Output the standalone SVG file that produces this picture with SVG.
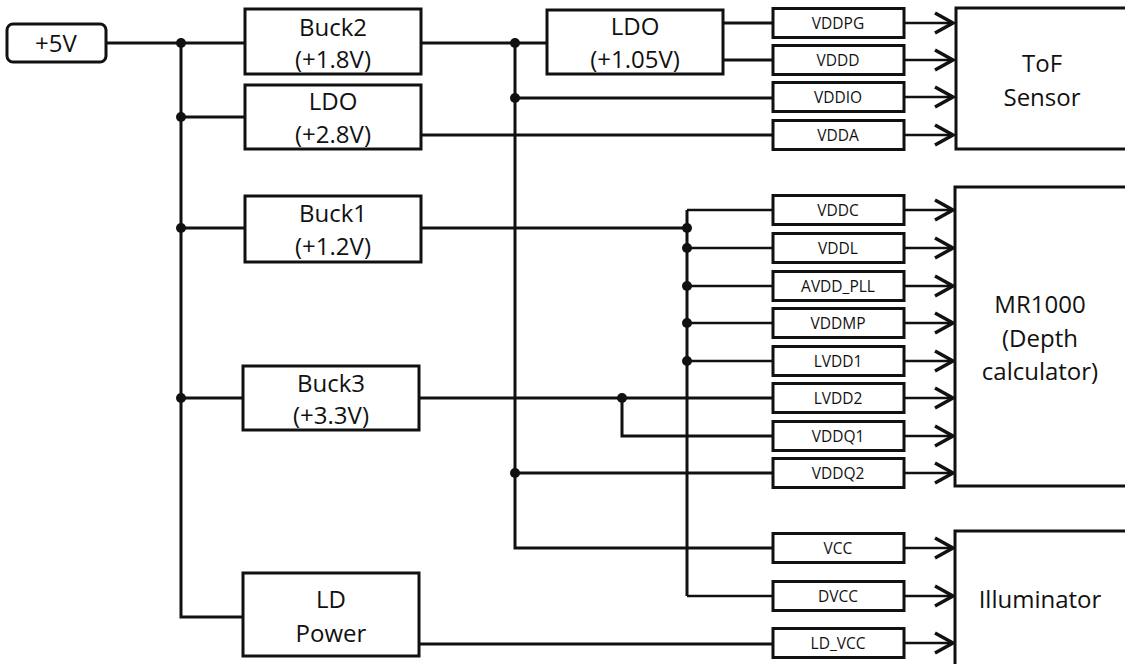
<svg xmlns="http://www.w3.org/2000/svg" width="1125" height="664" viewBox="0 0 1125 664">
<style>
.box{fill:#fff;stroke:#111;stroke-width:3}
.sbox{fill:#fff;stroke:#111;stroke-width:3}
.w{fill:none;stroke:#111;stroke-width:3;stroke-linejoin:miter}
.w2{fill:none;stroke:#111;stroke-width:2.5}
.ar{fill:none;stroke:#111;stroke-width:2.5}
.hd{fill:none;stroke:#111;stroke-width:3.5}
.dot{fill:#111}
.t{font-family:"Open Sans","Noto Sans",sans-serif;font-size:24px;fill:#111;text-anchor:middle}
.s{font-family:"Open Sans","Noto Sans",sans-serif;font-size:15.5px;fill:#111;text-anchor:middle}
</style>
<rect width="1125" height="664" fill="#fff"/>
<g id="connectors">
<!-- +5V bus -->
<path class="w" d="M106 43H245M181 43V617H245M181 117H245M181 228H245M181 398H245"/>
<!-- Buck2 output -->
<path class="w" d="M421 43H547M515 43V548H773M515 98H773M515 473H773"/>
<!-- LDO 1.05 outputs -->
<path class="w" d="M723 23H773M723 60H773"/>
<!-- LDO 2.8 output -->
<path class="w" d="M421 135H773"/>
<!-- Buck1 output -->
<path class="w" d="M421 228H687"/>
<path class="w" d="M687 210V596"/>
<path class="w2" d="M687 210H773M687 248H773M687 286H773M687 323H773M687 361H773M687 596H773"/>
<!-- Buck3 output -->
<path class="w" d="M419 398H773M622 398V436H773"/>
<!-- LD power output -->
<path class="w" d="M419 644H773"/>
<!-- dots -->
<circle class="dot" cx="181" cy="43" r="5"/>
<circle class="dot" cx="181" cy="117" r="5"/>
<circle class="dot" cx="181" cy="228" r="5"/>
<circle class="dot" cx="181" cy="398" r="5"/>
<circle class="dot" cx="515" cy="43" r="5"/>
<circle class="dot" cx="515" cy="98" r="5"/>
<circle class="dot" cx="515" cy="473" r="5"/>
<circle class="dot" cx="687" cy="228" r="5"/>
<circle class="dot" cx="687" cy="248" r="5"/>
<circle class="dot" cx="687" cy="286" r="5"/>
<circle class="dot" cx="687" cy="323" r="5"/>
<circle class="dot" cx="687" cy="361" r="5"/>
<circle class="dot" cx="622" cy="398" r="5"/>
<!-- arrows -->
<path class="ar" d="M904 23H953M904 60H953M904 97H953M904 135H953M904 210H953M904 248H953M904 286H953M904 323H953M904 361H953M904 398H953M904 436H953M904 473H953M904 548H953M904 596H953M904 643H953"/>
<g class="hd">
<path d="M935 13L953 23L935 33"/>
<path d="M935 50L953 60L935 70"/>
<path d="M935 87L953 97L935 107"/>
<path d="M935 125L953 135L935 145"/>
<path d="M935 200L953 210L935 220"/>
<path d="M935 238L953 248L935 258"/>
<path d="M935 276L953 286L935 296"/>
<path d="M935 313L953 323L935 333"/>
<path d="M935 351L953 361L935 371"/>
<path d="M935 388L953 398L935 408"/>
<path d="M935 426L953 436L935 446"/>
<path d="M935 463L953 473L935 483"/>
<path d="M935 538L953 548L935 558"/>
<path d="M935 586L953 596L935 606"/>
<path d="M935 633L953 643L935 653"/>
</g>
</g>
<g id="n5v"><rect class="box" x="7" y="24" width="99" height="38" rx="6"/><text class="t" x="56" y="52">+5V</text></g>
<g id="buck2"><rect class="box" x="245" y="9" width="176" height="65"/><text class="t" x="333" y="36">Buck2</text><text class="t" x="333" y="68">(+1.8V)</text></g>
<g id="ldo28"><rect class="box" x="245" y="85" width="176" height="64"/><text class="t" x="333" y="110">LDO</text><text class="t" x="333" y="143">(+2.8V)</text></g>
<g id="buck1"><rect class="box" x="245" y="196" width="176" height="66"/><text class="t" x="333" y="222">Buck1</text><text class="t" x="333" y="255">(+1.2V)</text></g>
<g id="buck3"><rect class="box" x="243" y="366" width="176" height="64"/><text class="t" x="331" y="392">Buck3</text><text class="t" x="331" y="424">(+3.3V)</text></g>
<g id="ldpower"><rect class="box" x="243" y="573" width="176" height="83"/><text class="t" x="331" y="608">LD</text><text class="t" x="331" y="642">Power</text></g>
<g id="ldo105"><rect class="box" x="547" y="10" width="176" height="64"/><text class="t" x="635" y="35">LDO</text><text class="t" x="635" y="68">(+1.05V)</text></g>
<g id="vddpg"><rect class="sbox" x="773" y="8.5" width="131" height="29"/><text class="s" x="838" y="28.5">VDDPG</text></g>
<g id="vddd"><rect class="sbox" x="773" y="45.5" width="131" height="29"/><text class="s" x="838" y="65.5">VDDD</text></g>
<g id="vddio"><rect class="sbox" x="773" y="82.5" width="131" height="29"/><text class="s" x="838" y="102.5">VDDIO</text></g>
<g id="vdda"><rect class="sbox" x="773" y="120.5" width="131" height="29"/><text class="s" x="838" y="140.5">VDDA</text></g>
<g id="vddc"><rect class="sbox" x="773" y="195.5" width="131" height="29"/><text class="s" x="838" y="215.5">VDDC</text></g>
<g id="vddl"><rect class="sbox" x="773" y="233.5" width="131" height="29"/><text class="s" x="838" y="253.5">VDDL</text></g>
<g id="avddpll"><rect class="sbox" x="773" y="271.5" width="131" height="29"/><text class="s" x="838" y="291.5">AVDD_PLL</text></g>
<g id="vddmp"><rect class="sbox" x="773" y="308.5" width="131" height="29"/><text class="s" x="838" y="328.5">VDDMP</text></g>
<g id="lvdd1"><rect class="sbox" x="773" y="346.5" width="131" height="29"/><text class="s" x="838" y="366.5">LVDD1</text></g>
<g id="lvdd2"><rect class="sbox" x="773" y="383.5" width="131" height="29"/><text class="s" x="838" y="403.5">LVDD2</text></g>
<g id="vddq1"><rect class="sbox" x="773" y="421.5" width="131" height="29"/><text class="s" x="838" y="441.5">VDDQ1</text></g>
<g id="vddq2"><rect class="sbox" x="773" y="458.5" width="131" height="29"/><text class="s" x="838" y="478.5">VDDQ2</text></g>
<g id="vcc"><rect class="sbox" x="773" y="533.5" width="131" height="29"/><text class="s" x="838" y="553.5">VCC</text></g>
<g id="dvcc"><rect class="sbox" x="773" y="581.5" width="131" height="29"/><text class="s" x="838" y="601.5">DVCC</text></g>
<g id="ldvcc"><rect class="sbox" x="773" y="628.5" width="131" height="29"/><text class="s" x="838" y="648.5">LD_VCC</text></g>
<g id="tof"><rect class="box" x="956" y="8" width="180" height="141"/><text class="t" x="1042" y="72">ToF</text><text class="t" x="1042" y="106">Sensor</text></g>
<g id="mr1000"><rect class="box" x="955" y="187" width="180" height="299"/><text class="t" x="1040" y="313">MR1000</text><text class="t" x="1040" y="347">(Depth</text><text class="t" x="1040" y="380">calculator)</text></g>
<g id="illuminator"><rect class="box" x="955" y="531" width="180" height="150"/><text class="t" x="1040" y="608">Illuminator</text></g>
</svg>
